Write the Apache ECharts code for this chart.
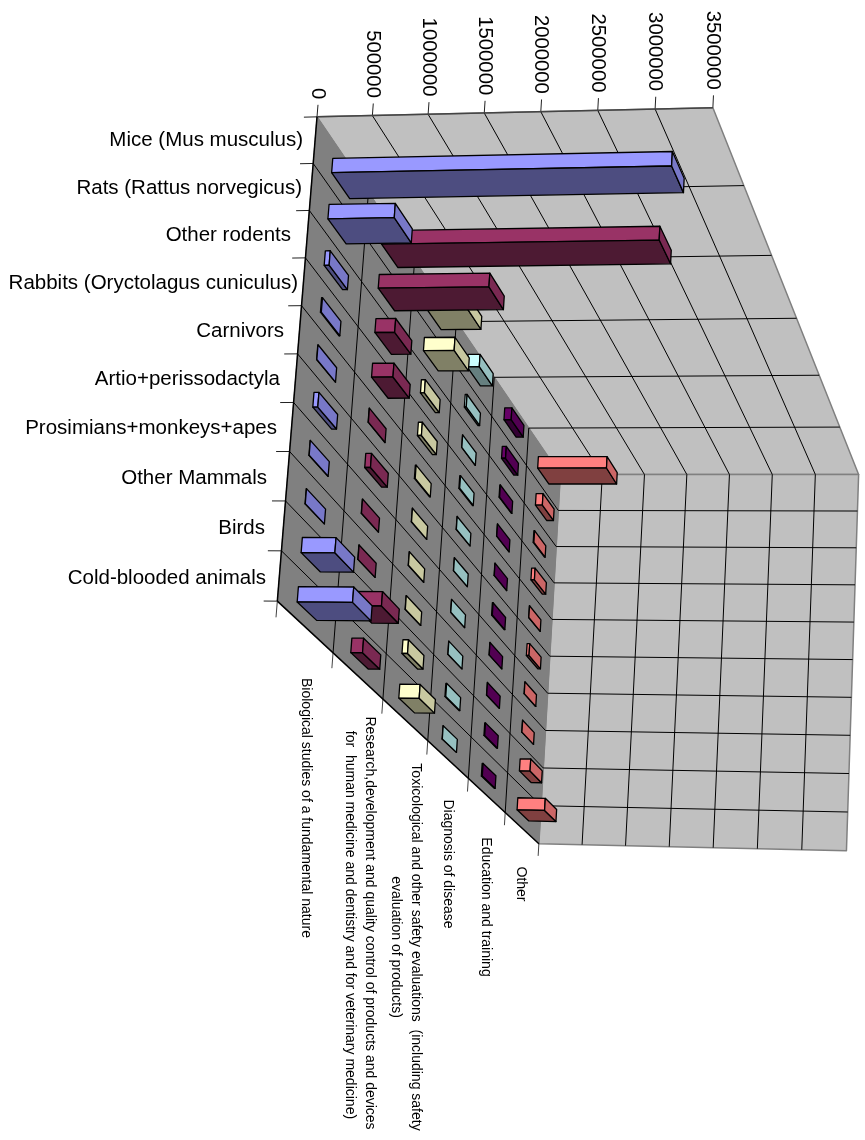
<!DOCTYPE html>
<html><head><meta charset="utf-8">
<style>html,body{margin:0;padding:0;background:#fff}#c{width:865px;height:1140px}</style>
<script src="https://cdn.jsdelivr.net/npm/echarts@6/dist/echarts.min.js"></script>
</head><body><div id="c"></div>
<script>
const categories = ["Mice (Mus musculus)","Rats (Rattus norvegicus)","Other rodents","Rabbits (Oryctolagus cuniculus)","Carnivors","Artio+perissodactyla","Prosimians+monkeys+apes","Other Mammals","Birds","Cold-blooded animals"];
const seriesNames = ["Biological studies of a fundamental nature","Research,development and quality control of products and devices\n for  human medicine and dentistry and for veterinary medicine)","Toxicological and other safety evaluations  (including safety\nevaluation of products)","Diagnosis of disease","Education and training","Other"];
const valueTicks = [0,500000,1000000,1500000,2000000,2500000,3000000,3500000];
const biological = [3060000,605000,45000,8000,2000,45000,2000,2000,300000,490000];
const research = [2640000,1060000,190000,205000,2000,55000,2000,2000,255000,110000];
const toxicological = [410000,310000,40000,40000,8000,2000,2000,2000,55000,200000];
const diagnosis = [130000,20000,2000,8000,2000,2000,2000,2000,8000,2000];
const education = [80000,45000,6000,2000,2000,8000,2000,2000,8000,10000];
const other = [795000,80000,8000,40000,2000,30000,2000,2000,120000,310000];
const seriesValues = [biological,research,toxicological,diagnosis,education,other];
const faceColours = [
 ["#9999FF","#7878C8","#4D4D80"],["#993366","#7A2952","#4D1A33"],["#FFFFCC","#C8C8A0","#808066"],
 ["#CCFFFF","#96C0C0","#668080"],["#660066","#520052","#330033"],["#FF8080","#CC6666","#804040"]];
// Projection of the tilted 3-D box: fitted from box-space anchors to the page.
const anchors = [
 [0,0,0,317,118],[1,0,0,713,108],[0,0,1,561,475],[1,0,1,858,474],[0,1,0,278,602],[0,1,1,539,844],[1,1,1,847,851],
 [0,0,5/6,529,429],[0,0,1/6,368,190],[0,1,1/6,333,653],[0,1,2/6,383,699],[0,1,3/6,428,741],[0,1,4/6,467,777],[0,1,5/6,505,812]];
function fit(){
 const A=[],b=[];
 anchors.forEach(([u,c,s,x,y])=>{
  A.push([u,c,s,1,0,0,0,0,-x*u,-x*c,-x*s]);b.push(x);
  A.push([0,0,0,0,u,c,s,1,-y*u,-y*c,-y*s]);b.push(y);
 });
 const n=11,M=[];
 for(let i=0;i<n;i++){M.push(new Array(n+1).fill(0));
  for(let j=0;j<n;j++)for(let r=0;r<A.length;r++)M[i][j]+=A[r][i]*A[r][j];
  for(let r=0;r<A.length;r++)M[i][n]+=A[r][i]*b[r];}
 for(let i=0;i<n;i++){let p=i;for(let r=i+1;r<n;r++)if(Math.abs(M[r][i])>Math.abs(M[p][i]))p=r;
  [M[i],M[p]]=[M[p],M[i]];
  for(let r=0;r<n;r++)if(r!==i){const f=M[r][i]/M[i][i];for(let k=i;k<=n;k++)M[r][k]-=f*M[i][k];}}
 return M.map((row,i)=>row[n]/row[i]);
}
const K=fit();
function P(u,c,s){const w=K[8]*u+K[9]*c+K[10]*s+1;
 return [(K[0]*u+K[1]*c+K[2]*s+K[3])/w,(K[4]*u+K[5]*c+K[6]*s+K[7])/w];}

const NS=seriesNames.length, NC=categories.length, VMAX=3500000;
const FONT='"Liberation Sans",Arial,sans-serif';
const line=(a,b,stroke,w)=>({type:'line',shape:{x1:a[0],y1:a[1],x2:b[0],y2:b[1]},style:{stroke:stroke,lineWidth:w||1}});
const poly=(pts,fill,stroke,w)=>({type:'polygon',shape:{points:pts},style:{fill:fill,stroke:stroke||null,lineWidth:w||1,lineJoin:'round'}});
const txt=(p,text,size,rot,align,vAlign,lh)=>({type:'text',x:p[0],y:p[1],rotation:rot,
  style:{text:text,x:0,y:0,font:size+'px '+FONT,fill:'#000',align:align,verticalAlign:vAlign,lineHeight:lh||size*1.2}});

function uOf(api,cs,v){return (api.coord([v,0])[0]-cs.x)/cs.width;}
function cOf(api,cs,i,frac){const y=api.coord([0,i])[1],h=api.size([0,1])[1];return (y+(frac-.5)*h-cs.y)/cs.height;}

function renderFrame(params,api){
 const cs=params.coordSys,ch=[];
 ch.push(poly([P(0,0,0),P(1,0,0),P(1,0,1),P(0,0,1)],'#C0C0C0','#808080',1.5));
 ch.push(poly([P(0,0,1),P(1,0,1),P(1,1,1),P(0,1,1)],'#C0C0C0','#808080',1.5));
 ch.push(poly([P(0,0,0),P(0,0,1),P(0,1,1),P(0,1,0)],'#808080','#808080',1));
 valueTicks.forEach(t=>{const u=uOf(api,cs,t);
  if(u>0&&u<1){ch.push(line(P(u,0,0),P(u,0,1),'#000'));ch.push(line(P(u,0,1),P(u,1,1),'#000'));}
  ch.push(line(P(u,0,0),P(u,-.026,0),'#222'));
 });
 for(let i=1;i<NC;i++){const c=i/NC;
  ch.push(line(P(0,c,0),P(0,c,1),'#000'));ch.push(line(P(0,c,1),P(1,c,1),'#000'));}
 for(let i=1;i<NS;i++){const s=i/NS;
  ch.push(line(P(0,0,s),P(0,1,s),'#000'));ch.push(line(P(0,0,s),P(1,0,s),'#000'));}
 for(let i=0;i<=NC;i++)ch.push(line(P(0,i/NC,0),P(-.034,i/NC,0),'#222'));
 for(let i=0;i<=NS;i++)ch.push(line(P(0,1,i/NS),P(0,1.032,i/NS),'#444'));
 ch.push(line(P(0,0,0),P(1,0,0),'#444',1.5));
 ch.push(line(P(0,0,0),P(0,1,0),'#000',1.5));
 ch.push(line(P(0,1,0),P(0,1,1),'#000',1.5));
 return {type:'group',children:ch};
}
const C_LO=.36,C_HI=.67,S_LO=.32,S_HI=.67;
function makeBar(sIdx){return function(params,api){
 const cs=params.coordSys,v=api.value(0),i=api.value(1);
 const u=uOf(api,cs,v),c0=cOf(api,cs,i,C_LO),c1=cOf(api,cs,i,C_HI);
 const s0=(sIdx+S_LO)/NS,s1=(sIdx+S_HI)/NS,col=faceColours[sIdx];
 return {type:'group',children:[
  poly([P(0,c0,s0),P(u,c0,s0),P(u,c1,s0),P(0,c1,s0)],col[0],'#000',1.3),
  poly([P(0,c1,s0),P(u,c1,s0),P(u,c1,s1),P(0,c1,s1)],col[2],'#000',1.3),
  poly([P(u,c0,s0),P(u,c0,s1),P(u,c1,s1),P(u,c1,s0)],col[1],'#000',1.3)
 ]};
};}
const catLabelRight=[303,302,291,298,284,280,277,267,265,266];
const catLabelY=[140,188,235,283,331,379,428,478,528,578];
const serLabelCentre=[[306,808],[360,923],[406,947],[448,864],[486,907],[521,884]];
function renderLabels(params,api){
 const cs=params.coordSys,ch=[];
 valueTicks.forEach(t=>{const u=uOf(api,cs,t),p=P(u,-.038,0);
  ch.push(txt([p[0]-1,p[1]],String(t),20.3,-Math.PI/2,'right','middle'));});
 categories.forEach((n,i)=>ch.push(txt([catLabelRight[i],catLabelY[i]],n,20.5,0,'right','middle')));
 seriesNames.forEach((n,i)=>ch.push(txt(serLabelCentre[i],n,14,-Math.PI/2,'center','middle',19.5)));
 return {type:'group',children:ch};
}
const series=[{type:'custom',name:'frame',z:1,silent:true,renderItem:renderFrame,data:[[0,0]],encode:{x:0,y:1}}];
for(let s=NS-1;s>=0;s--){
 series.push({type:'custom',name:seriesNames[s],z:2+NS-s,silent:true,renderItem:makeBar(s),
  encode:{x:0,y:1},data:seriesValues[s].map((v,i)=>[v,i])});
}
series.push({type:'custom',name:'labels',z:20,silent:true,renderItem:renderLabels,data:[[0,0]],encode:{x:0,y:1}});
const chart=echarts.init(document.getElementById('c'));
chart.setOption({animation:false,backgroundColor:'#fff',tooltip:{show:false},
 grid:{left:0,top:0,right:0,bottom:0},
 xAxis:{type:'value',min:0,max:VMAX,interval:500000,show:false},
 yAxis:{type:'category',data:categories,inverse:true,show:false},
 series:series});
</script></body></html>
